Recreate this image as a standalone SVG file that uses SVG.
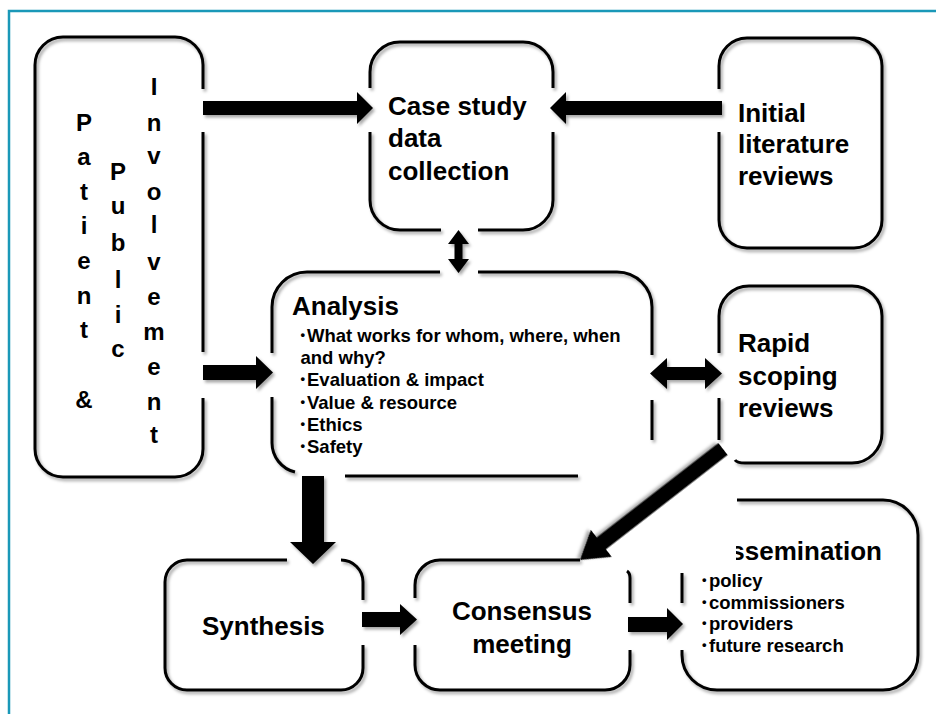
<svg xmlns="http://www.w3.org/2000/svg" width="936" height="714" viewBox="0 0 936 714">
<defs>
<filter id="sh" x="-10%" y="-10%" width="130%" height="130%">
<feDropShadow dx="2" dy="2.5" stdDeviation="1.5" flood-color="#000" flood-opacity="0.35"/>
</filter>
<clipPath id="dclip"><rect x="736" y="520" width="180" height="60"/></clipPath>
</defs>
<style>
.box{fill:none;stroke:#000;stroke-width:3;stroke-linecap:butt;filter:url(#sh)}
.arr{fill:#000;filter:url(#sh)}
.h{font-family:"Liberation Sans",Arial,sans-serif;font-weight:bold;font-size:26px;fill:#000}
.b{font-family:"Liberation Sans",Arial,sans-serif;font-weight:bold;font-size:18.5px;fill:#000}
.d{font-family:"Liberation Sans",Arial,sans-serif;font-weight:bold;font-size:13px;fill:#000}
.v{font-family:"Liberation Sans",Arial,sans-serif;font-weight:bold;font-size:24px;fill:#000;text-anchor:middle}
.frame{fill:none;stroke:#1a98b8;stroke-width:2.5}
</style>
<rect width="936" height="714" fill="#fff"/>
<path class="frame" d="M9,714 L9,11 L936,11"/>

<g id="ppi">
<path class="box" d="M203,89 L203,65 A28,28 0 0 0 175,37 L63,37 A28,28 0 0 0 35,65 L35,449 A28,28 0 0 0 63,477 L175,477 A28,28 0 0 0 203,449 L203,398 M203,352 L203,132"/>
<text class="v" x="84" y="131">P</text>
<text class="v" x="84" y="165">a</text>
<text class="v" x="84" y="200">t</text>
<text class="v" x="84" y="234">i</text>
<text class="v" x="84" y="269">e</text>
<text class="v" x="84" y="304">n</text>
<text class="v" x="84" y="338">t</text>
<text class="v" x="84" y="408">&amp;</text>
<text class="v" x="118" y="180">P</text>
<text class="v" x="118" y="214">u</text>
<text class="v" x="118" y="251">b</text>
<text class="v" x="118" y="288">l</text>
<text class="v" x="118" y="323">i</text>
<text class="v" x="118" y="357">c</text>
<text class="v" x="154" y="95">I</text>
<text class="v" x="154" y="131">n</text>
<text class="v" x="154" y="164">v</text>
<text class="v" x="154" y="200">o</text>
<text class="v" x="154" y="233">l</text>
<text class="v" x="154" y="270">v</text>
<text class="v" x="154" y="305">e</text>
<text class="v" x="154" y="340">m</text>
<text class="v" x="154" y="375">e</text>
<text class="v" x="154" y="410">n</text>
<text class="v" x="154" y="443">t</text>
</g>

<g id="casestudy">
<path class="box" d="M370,88 L370,72 A30,30 0 0 1 400,42 L523,42 A30,30 0 0 1 553,72 L553,88 M553,132 L553,200 A30,30 0 0 1 523,230 L478,230 M441,230 L400,230 A30,30 0 0 1 370,200 L370,132"/>
<text class="h" x="388" y="115">Case study</text>
<text class="h" x="388" y="147">data</text>
<text class="h" x="388" y="180">collection</text>
</g>

<g id="initial">
<path class="box" d="M719,89 L719,66 A28,28 0 0 1 747,38 L854,38 A28,28 0 0 1 882,66 L882,220 A28,28 0 0 1 854,248 L747,248 A28,28 0 0 1 719,220 L719,132"/>
<text class="h" x="738" y="121.5">Initial</text>
<text class="h" x="738" y="153">literature</text>
<text class="h" x="738" y="185">reviews</text>
</g>

<g id="analysis">
<path class="box" d="M440,272 L307,272 A35,35 0 0 0 272,307 L272,353 M272,397 L272,443 A30,30 0 0 0 295,472 M345,476 L578,476 M478,272 L617,272 A35,35 0 0 1 652,307 L652,355 M652,400 L652,440"/>
<text class="h" x="292" y="315">Analysis</text>
<text class="d" x="300.5" y="338.5">•</text><text class="b" x="307" y="341.5">What works for whom, where, when</text>
<text class="b" x="300.5" y="363.5">and why?</text>
<text class="d" x="300.5" y="383">•</text><text class="b" x="307" y="386">Evaluation &amp; impact</text>
<text class="d" x="300.5" y="405.5">•</text><text class="b" x="307" y="408.5">Value &amp; resource</text>
<text class="d" x="300.5" y="427.8">•</text><text class="b" x="307" y="430.8">Ethics</text>
<text class="d" x="300.5" y="450">•</text><text class="b" x="307" y="453">Safety</text>
</g>

<g id="rapid">
<path class="box" d="M719,398 L719,440 M735,460 Q737,463 745,463 L852,463 A30,30 0 0 0 882,433 L882,316 A30,30 0 0 0 852,286 L749,286 A30,30 0 0 0 719,316 L719,353"/>
<text class="h" x="738" y="352">Rapid</text>
<text class="h" x="738" y="385">scoping</text>
<text class="h" x="738" y="417">reviews</text>
</g>

<g id="synthesis">
<path class="box" d="M287,560 L187,560 A22,22 0 0 0 165,582 L165,668 A22,22 0 0 0 187,690 L341,690 A22,22 0 0 0 363,668 L363,645 M363,600 L363,582 A22,22 0 0 0 341,560"/>
<text class="h" x="202" y="635">Synthesis</text>
</g>

<g id="consensus">
<path class="box" d="M580,560 L440,560 A25,25 0 0 0 415,585 L415,598 M415,645 L415,665 A25,25 0 0 0 440,690 L605,690 A25,25 0 0 0 630,665 L630,650 M630,603 L630,578 Q630,573 627,571"/>
<text class="h" x="522" y="620" text-anchor="middle">Consensus</text>
<text class="h" x="522" y="653" text-anchor="middle">meeting</text>
</g>

<g id="dissemination">
<path class="box" d="M737,500 L883,500 A35,35 0 0 1 918,535 L918,655 A35,35 0 0 1 883,690 L717,690 A35,35 0 0 1 682,655 L682,650 M682,603 L682,573"/>
<text class="h" x="882" y="560" text-anchor="end" clip-path="url(#dclip)">ssemination</text>
<text class="d" x="702" y="584">•</text><text class="b" x="709" y="587">policy</text>
<text class="d" x="702" y="605.5">•</text><text class="b" x="709" y="608.5">commissioners</text>
<text class="d" x="702" y="627">•</text><text class="b" x="709" y="630">providers</text>
<text class="d" x="702" y="649">•</text><text class="b" x="709" y="652">future research</text>
</g>

<g id="connectors">
<polygon class="arr" points="203,101 357,101 357,92 373,108 357,124 357,115 203,115"/>
<polygon class="arr" points="722,101 566,101 566,92 550,108 566,124 566,115 722,115"/>
<polygon class="arr" points="458.5,230 469,244 462.5,244 462.5,259 469,259 458.5,273 448,259 454.5,259 454.5,244 448,244"/>
<polygon class="arr" points="203,365 256,365 256,356 273,372.5 256,389 256,380 203,380"/>
<polygon class="arr" points="650,373.5 667,358 667,367 705,367 705,358 722,373.5 705,389 705,380 667,380 667,389"/>
<polygon class="arr" points="302,476 324,476 324,542 336,542 313,564 290,542 302,542"/>
<polygon class="arr" transform="translate(723,449) rotate(142.2)" points="0,-7.5 154,-7.5 154,-17 181,0 154,17 154,7.5 0,7.5"/>
<polygon class="arr" points="362,612 400,612 400,604 417,619.5 400,635 400,627 362,627"/>
<polygon class="arr" points="628,617 667,617 667,608 683,624 667,640 667,632 628,632"/>
</g>
</svg>
